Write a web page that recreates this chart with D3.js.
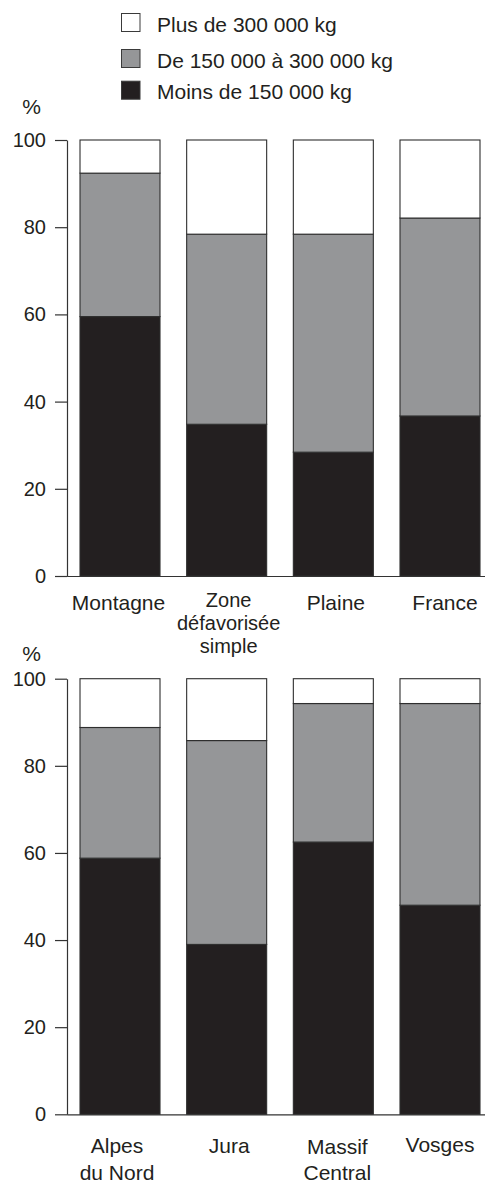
<!DOCTYPE html>
<html>
<head>
<meta charset="utf-8">
<script src="https://cdn.jsdelivr.net/npm/d3@7"></script>
<style>
  html, body { margin: 0; padding: 0; background: #fff; }
  svg { display: block; font-family: "Liberation Sans", Arial, Helvetica, sans-serif; }
</style>
</head>
<body>
<svg id="chart" width="485" height="1185"></svg>
<script>
// ---- Data ----
const seriesNames = ["Plus de 300 000 kg", "De 150 000 à 300 000 kg", "Moins de 150 000 kg"];
const seriesKeys = ["moins", "de150", "plus"];

const topCategories = ["Montagne", "Zone\ndéfavorisée\nsimple", "Plaine", "France"];
const topMoins = [59.5, 34.8, 28.4, 36.7];
const topDe150 = [32.9, 43.6, 50.0, 45.4];
const topPlus  = [7.6, 21.6, 21.6, 17.9];

const bottomCategories = ["Alpes\ndu Nord", "Jura", "Massif\nCentral", "Vosges"];
const bottomMoins = [58.8, 39.0, 62.5, 48.0];
const bottomDe150 = [30.0, 46.8, 31.8, 46.3];
const bottomPlus  = [11.2, 14.2, 5.7, 5.7];

const yTicks = [0, 20, 40, 60, 80, 100];

// ---- Styles ----
const colors = { plus: "#ffffff", de150: "#959698", moins: "#231f20" };
const ink = "#231f20";

const svg = d3.select("#chart");

// ---- Legend ----
const legendKeys = ["plus", "de150", "moins"];
const legendTops = [13.5, 49.5, 81.2];
const legend = svg.append("g");
legendKeys.forEach((k, i) => {
  legend.append("rect")
    .attr("x", 121.5).attr("y", legendTops[i])
    .attr("width", 18.5).attr("height", 18)
    .attr("fill", colors[k]).attr("stroke", "#3a3a3a").attr("stroke-width", 1);
  legend.append("text")
    .attr("x", 157).attr("y", legendTops[i] + 18.2)
    .attr("font-size", 21).attr("fill", ink)
    .text(seriesNames[i]);
});

function drawPanel(cfg) {
  const { categories, moins, de150, plus, yTop, yBottom, pctY, labelY, lineH, labelDx, labelSize } = cfg;
  const rows = categories.map((c, i) => ({ cat: c, moins: moins[i], de150: de150[i], plus: plus[i] }));

  const x = d3.scaleBand().domain(categories).range([66.67, 493.33])
    .paddingInner(0.25).paddingOuter(0.125);
  const y = d3.scaleLinear().domain([0, 100]).range([yBottom, yTop]);

  const g = svg.append("g");

  const stacked = d3.stack().keys(seriesKeys)(rows);

  g.selectAll("g.layer").data(stacked).join("g")
    .attr("class", "layer")
    .attr("fill", d => colors[d.key])
    .selectAll("rect").data(d => d).join("rect")
      .attr("x", d => x(d.data.cat))
      .attr("width", x.bandwidth())
      .attr("y", d => y(d[1]))
      .attr("height", d => y(d[0]) - y(d[1]))
      .attr("stroke", "#2e2e2e")
      .attr("stroke-width", 1.1);

  // y axis
  const yAxis = d3.axisLeft(y).tickValues(yTicks).tickSize(12).tickSizeOuter(0).tickPadding(9);
  const ya = g.append("g").attr("transform", "translate(67,0)").call(yAxis);
  ya.select(".domain").attr("stroke", "#333").attr("stroke-width", 1.2);
  ya.selectAll(".tick line").attr("stroke", "#333").attr("stroke-width", 1.2);
  ya.selectAll(".tick text").attr("font-size", 20).attr("fill", ink)
    .attr("font-family", "'Liberation Sans', Arial, sans-serif");

  // x axis baseline
  const xAxis = d3.axisBottom(x).tickSize(0).tickSizeOuter(0).tickFormat("");
  const xa = g.append("g").attr("transform", `translate(0,${yBottom})`).call(xAxis);
  xa.select(".domain").attr("stroke", "#333").attr("stroke-width", 1.2);
  xa.selectAll(".tick").remove();

  // category labels
  categories.forEach((c, i) => {
    const lines = c.split("\n");
    const t = g.append("text")
      .attr("text-anchor", "middle")
      .attr("font-size", labelSize[i]).attr("fill", ink);
    lines.forEach((ln, j) => {
      t.append("tspan")
        .attr("x", x(c) + x.bandwidth() / 2 + labelDx[i])
        .attr("y", labelY[i] + j * lineH)
        .text(ln);
    });
  });

  // % label
  g.append("text").attr("x", 31.5).attr("y", pctY)
    .attr("text-anchor", "middle").attr("font-size", 21).attr("fill", ink).text("%");
}

drawPanel({
  categories: topCategories, moins: topMoins, de150: topDe150, plus: topPlus,
  yTop: 140, yBottom: 576, pctY: 113.5,
  labelY: [610, 606.5, 610, 610], lineH: 23, labelDx: [-1.5, 2, 2.5, 5],
  labelSize: [21, 20, 21, 21]
});

drawPanel({
  categories: bottomCategories, moins: bottomMoins, de150: bottomDe150, plus: bottomPlus,
  yTop: 678.7, yBottom: 1114.3, pctY: 661,
  labelY: [1153, 1152.7, 1153.5, 1152], lineH: 26.5, labelDx: [-3, 2.5, 4, 0],
  labelSize: [21, 21, 21, 21]
});
</script>
</body>
</html>
